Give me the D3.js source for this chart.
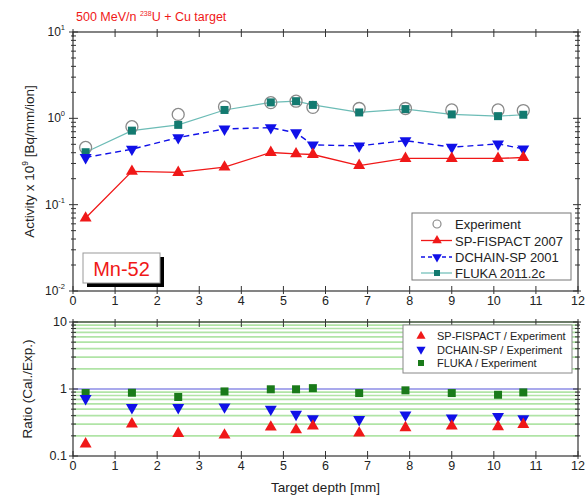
<!DOCTYPE html>
<html>
<head>
<meta charset="utf-8">
<script src="https://cdn.jsdelivr.net/npm/d3@7"></script>
<style>
  body { margin: 0; background: #fff; }
  svg { display: block; font-family: "Liberation Sans", Arial, sans-serif; }
</style>
</head>
<body>
<svg id="chart" width="588" height="498"></svg>
<script>
// Target depths of the measured foils [mm]
const depth = [0.3, 1.4, 2.5, 3.6, 4.7, 5.3, 5.7, 6.8, 7.9, 9.0, 10.1, 10.7];

// Mn-52 activity x 1e9 [Bq/mm/ion]
const experiment = [0.46, 0.80, 1.11, 1.36, 1.52, 1.58, 1.34, 1.30, 1.30, 1.25, 1.25, 1.23];
const fispact    = [0.070, 0.243, 0.236, 0.272, 0.402, 0.388, 0.381, 0.284, 0.343, 0.343, 0.343, 0.352];
const dchain     = [0.352, 0.439, 0.598, 0.753, 0.78, 0.68, 0.492, 0.48, 0.552, 0.463, 0.506, 0.443];
const fluka      = [0.405, 0.72, 0.84, 1.25, 1.53, 1.58, 1.43, 1.17, 1.28, 1.11, 1.06, 1.10];

// Calculation / experiment ratios
const ratioFispact = [0.151, 0.30, 0.217, 0.205, 0.27, 0.246, 0.28, 0.22, 0.264, 0.28, 0.273, 0.295];
const ratioDchain  = [0.72, 0.53, 0.53, 0.54, 0.50, 0.42, 0.36, 0.35, 0.41, 0.37, 0.39, 0.36];
const ratioFluka   = [0.87, 0.88, 0.76, 0.92, 0.99, 0.99, 1.03, 0.87, 0.955, 0.87, 0.82, 0.89];

const xTicks = d3.range(0, 13);
const topExponents = [1, 0, -1, -2];
const bottomTicks = [10, 1, 0.1];
const bottomTickLabels = ["10", "1", "0.1"];

const svg = d3.select("#chart");
const L = 73, R = 578;
const topT = 32, topB = 291;
const botT = 322, botB = 456;

const x = d3.scaleLinear().domain([0, 12]).range([L, R]);
const yTop = d3.scaleLog().domain([0.01, 10]).range([topB, topT]);
const yBot = d3.scaleLog().domain([0.1, 10]).range([botB, botT]);

const RED = "#f01818", BLUE = "#1010e8", TEAL_LINE = "#6cbcb6", TEAL = "#137a70";
const GREEN = "#1a7a1a";

// minor log positions
function minors(lo, hi) {
  const out = [];
  for (let e = lo; e < hi; e++) for (let m = 2; m <= 9; m++) out.push(m * Math.pow(10, e));
  return out;
}

// ---------- bottom panel background grid ----------
const gBotGrid = svg.append("g");
gBotGrid.selectAll("line.g").data(minors(-1, 1)).join("line")
  .attr("x1", L).attr("x2", R)
  .attr("y1", d => yBot(d)).attr("y2", d => yBot(d))
  .attr("stroke", "#b0e4a6").attr("stroke-width", 1.7);
gBotGrid.append("line")
  .attr("x1", L).attr("x2", R).attr("y1", yBot(10)).attr("y2", yBot(10))
  .attr("stroke", "#b0e4a6").attr("stroke-width", 1.7);
gBotGrid.append("line")
  .attr("x1", L).attr("x2", R).attr("y1", yBot(1)).attr("y2", yBot(1))
  .attr("stroke", "#8c8ce6").attr("stroke-width", 1.3);

// ---------- frames and ticks ----------
function frame(yScale, t, b, majors, minorVals) {
  const g = svg.append("g").attr("stroke", "#333").attr("fill", "none");
  g.append("rect").attr("x", L).attr("y", t).attr("width", R - L).attr("height", b - t)
    .attr("stroke-width", 1.2);
  // x ticks top and bottom
  g.selectAll("line.xb").data(xTicks).join("line")
    .attr("x1", d => x(d)).attr("x2", d => x(d)).attr("y1", b + 3).attr("y2", b - 5);
  g.selectAll("line.xt").data(xTicks).join("line")
    .attr("x1", d => x(d)).attr("x2", d => x(d)).attr("y1", t - 3).attr("y2", t + 5);
  // y ticks left and right
  g.selectAll("line.yl").data(majors).join("line")
    .attr("x1", L - 4).attr("x2", L + 5).attr("y1", d => yScale(d)).attr("y2", d => yScale(d));
  g.selectAll("line.yr").data(majors).join("line")
    .attr("x1", R + 3).attr("x2", R - 5).attr("y1", d => yScale(d)).attr("y2", d => yScale(d));
  g.selectAll("line.ml").data(minorVals).join("line")
    .attr("x1", L - 2).attr("x2", L + 3).attr("y1", d => yScale(d)).attr("y2", d => yScale(d));
  g.selectAll("line.mr").data(minorVals).join("line")
    .attr("x1", R + 2).attr("x2", R - 3).attr("y1", d => yScale(d)).attr("y2", d => yScale(d));
  // x tick labels
  svg.append("g").selectAll("text").data(xTicks).join("text")
    .attr("x", d => x(d)).attr("y", b + 14).attr("text-anchor", "middle")
    .attr("font-size", 12.5).attr("fill", "#222").text(d => d);
}
frame(yTop, topT, topB, topExponents.map(e => Math.pow(10, e)), minors(-2, 1));
frame(yBot, botT, botB, bottomTicks, minors(-1, 1));

// top y tick labels 10^n
const tl = svg.append("g").selectAll("text").data(topExponents).join("text")
  .attr("x", L - 8).attr("y", d => yTop(Math.pow(10, d)) + 4)
  .attr("text-anchor", "end").attr("font-size", 12).attr("fill", "#222");
tl.append("tspan").text("10");
tl.append("tspan").attr("dy", -6).attr("font-size", 7.5).text(d => d);
// bottom y tick labels
svg.append("g").selectAll("text").data(bottomTicks).join("text")
  .attr("x", L - 6).attr("y", d => yBot(d) + 4)
  .attr("text-anchor", "end").attr("font-size", 12.5).attr("fill", "#222")
  .text((d, i) => bottomTickLabels[i]);

// ---------- titles ----------
const title = svg.append("text").attr("x", 76).attr("y", 21).attr("font-size", 12.5).attr("fill", RED);
title.append("tspan").text("500 MeV/n ");
title.append("tspan").attr("font-size", 7).attr("dy", -5).text("238");
title.append("tspan").attr("dy", 5).text("U + Cu target");

const yl = svg.append("text").attr("transform", `translate(34,${(topT + topB) / 2}) rotate(-90)`)
  .attr("text-anchor", "middle").attr("font-size", 13.5).attr("fill", "#222");
yl.append("tspan").text("Activity x 10");
yl.append("tspan").attr("font-size", 8.5).attr("dy", -6).text("9");
yl.append("tspan").attr("dy", 6).text(" [Bq/mm/ion]");

svg.append("text").attr("transform", `translate(32,${(botT + botB) / 2}) rotate(-90)`)
  .attr("text-anchor", "middle").attr("font-size", 13.5).attr("fill", "#222").text("Ratio (Cal./Exp.)");
svg.append("text").attr("x", (L + R) / 2).attr("y", 492).attr("text-anchor", "middle")
  .attr("font-size", 13.5).attr("fill", "#222").text("Target depth [mm]");

// ---------- markers ----------
function drawTri(g, px, py, color, down, size) {
  g.append("path").attr("d", d3.symbol().type(d3.symbolTriangle).size(size)())
    .attr("transform", `translate(${px},${py})${down ? " rotate(180)" : ""}`)
    .attr("fill", color);
}

// ---------- top panel series ----------
const line = vals => d3.line().x((d, i) => x(depth[i])).y(d => yTop(d))(vals);
const gTop = svg.append("g");
gTop.append("path").attr("d", line(fluka)).attr("fill", "none").attr("stroke", TEAL_LINE).attr("stroke-width", 1.2);
gTop.append("path").attr("d", line(dchain)).attr("fill", "none").attr("stroke", BLUE)
  .attr("stroke-width", 1.4).attr("stroke-dasharray", "6,4");
gTop.append("path").attr("d", line(fispact)).attr("fill", "none").attr("stroke", RED).attr("stroke-width", 1.3);

gTop.selectAll("circle").data(experiment).join("circle")
  .attr("cx", (d, i) => x(depth[i])).attr("cy", d => yTop(d)).attr("r", 6)
  .attr("fill", "none").attr("stroke", "#8a8a8a").attr("stroke-width", 1.3);
gTop.selectAll("rect.fl").data(fluka).join("rect")
  .attr("x", (d, i) => x(depth[i]) - 4).attr("y", d => yTop(d) - 4)
  .attr("width", 8).attr("height", 8).attr("fill", TEAL);
dchain.forEach((d, i) => drawTri(gTop, x(depth[i]), yTop(d), BLUE, true, 62));
fispact.forEach((d, i) => drawTri(gTop, x(depth[i]), yTop(d), RED, false, 62));

// Mn-52 label box with shadow
svg.append("rect").attr("x", 87).attr("y", 257).attr("width", 77).attr("height", 30).attr("fill", "#000");
svg.append("rect").attr("x", 83).attr("y", 253).attr("width", 77).attr("height", 30)
  .attr("fill", "#fff").attr("stroke", "#999").attr("stroke-width", 1);
svg.append("text").attr("x", 121.5).attr("y", 276).attr("text-anchor", "middle")
  .attr("font-size", 20).attr("fill", RED).text("Mn-52");

// top legend
const lg = svg.append("g");
lg.append("rect").attr("x", 412).attr("y", 213).attr("width", 159).attr("height", 67)
  .attr("fill", "#fff").attr("stroke", "#777").attr("stroke-width", 1);
const legItems = ["Experiment", "SP-FISPACT 2007", "DCHAIN-SP 2001", "FLUKA 2011.2c"];
const legY = [224, 240.5, 257, 273];
lg.append("circle").attr("cx", 437).attr("cy", legY[0]).attr("r", 4).attr("fill", "none")
  .attr("stroke", "#8a8a8a").attr("stroke-width", 1.2);
lg.append("line").attr("x1", 421).attr("x2", 452).attr("y1", legY[1]).attr("y2", legY[1]).attr("stroke", RED).attr("stroke-width", 1.3);
drawTri(lg, 437, legY[1], RED, false, 40);
lg.append("line").attr("x1", 421).attr("x2", 452).attr("y1", legY[2]).attr("y2", legY[2])
  .attr("stroke", BLUE).attr("stroke-width", 1.3).attr("stroke-dasharray", "4,3");
drawTri(lg, 437, legY[2], BLUE, true, 40);
lg.append("line").attr("x1", 421).attr("x2", 452).attr("y1", legY[3]).attr("y2", legY[3]).attr("stroke", TEAL_LINE).attr("stroke-width", 1.2);
lg.append("rect").attr("x", 434).attr("y", legY[3] - 3).attr("width", 6).attr("height", 6).attr("fill", TEAL);
lg.selectAll("text").data(legItems).join("text")
  .attr("x", 455).attr("y", (d, i) => legY[i] + 5).attr("font-size", 13).attr("fill", "#222").text(d => d);

// ---------- bottom panel series ----------
const gBot = svg.append("g");
ratioFluka.forEach((d, i) => gBot.append("rect")
  .attr("x", x(depth[i]) - 4).attr("y", yBot(d) - 4).attr("width", 8).attr("height", 8).attr("fill", GREEN));
ratioDchain.forEach((d, i) => drawTri(gBot, x(depth[i]), yBot(d), BLUE, true, 62));
ratioFispact.forEach((d, i) => drawTri(gBot, x(depth[i]), yBot(d), RED, false, 62));

// bottom legend
const bl = svg.append("g");
bl.append("rect").attr("x", 403).attr("y", 325).attr("width", 169).attr("height", 48)
  .attr("fill", "#fff").attr("stroke", "#888").attr("stroke-width", 1);
const bItems = ["SP-FISPACT / Experiment", "DCHAIN-SP / Experiment", "FLUKA / Experiment"];
const bY = [336, 349.5, 363];
drawTri(bl, 421, bY[0], RED, false, 36);
drawTri(bl, 421, bY[1], BLUE, true, 36);
bl.append("rect").attr("x", 418).attr("y", bY[2] - 3).attr("width", 6).attr("height", 6).attr("fill", GREEN);
bl.selectAll("text").data(bItems).join("text")
  .attr("x", 437).attr("y", (d, i) => bY[i] + 4).attr("font-size", 11).attr("fill", "#222").text(d => d);
</script>
</body>
</html>
